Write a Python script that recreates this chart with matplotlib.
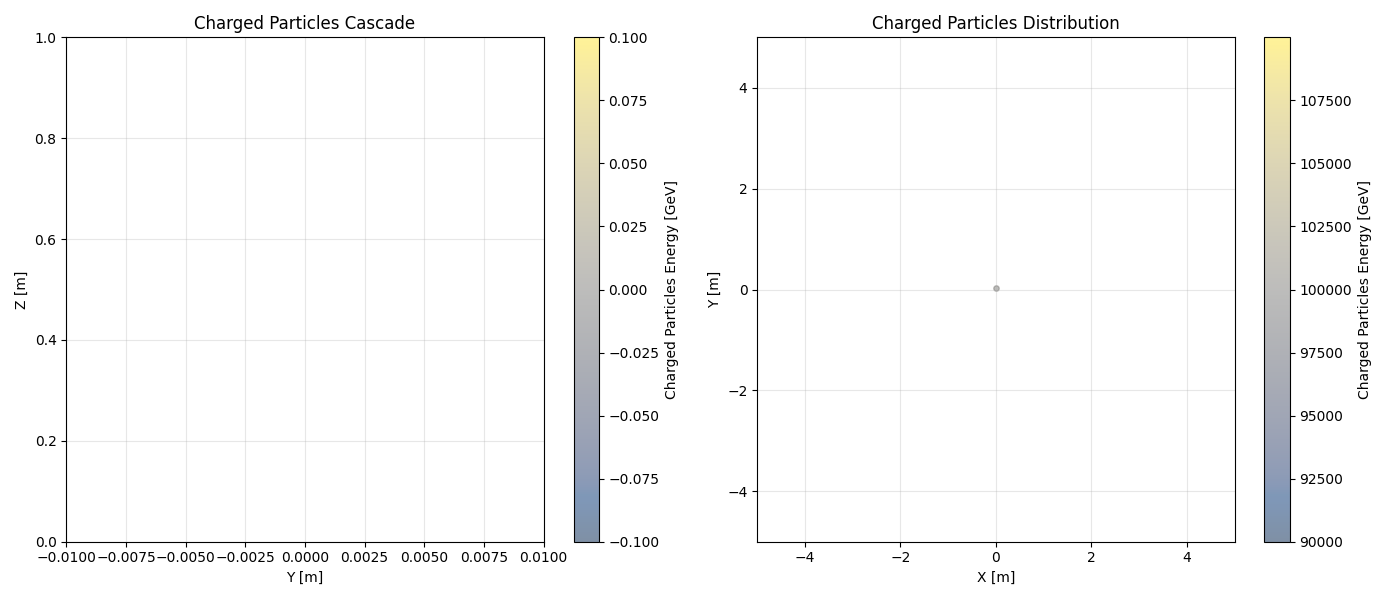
import matplotlib
matplotlib.use('Agg')
import matplotlib.pyplot as plt
import numpy as np

# cascade view: no charged particles recorded
cascade_y = []
cascade_z = []
cascade_energy = []

# transverse distribution: single primary
dist_x = [0.0]
dist_y = [0.03]
dist_energy = [99999.9]

fig, (ax1, ax2) = plt.subplots(1, 2, figsize=(14, 6))

sc1 = ax1.scatter(cascade_y, cascade_z, c=cascade_energy, cmap='cividis',
                  alpha=0.5, s=15, vmin=0, vmax=0)
ax1.set_xlim(-0.01, 0.01)
ax1.set_ylim(0, 1)
ax1.set_xlabel('Y [m]')
ax1.set_ylabel('Z [m]')
ax1.set_title('Charged Particles Cascade')
ax1.grid(True, alpha=0.3)
fig.colorbar(sc1, ax=ax1, label='Charged Particles Energy [GeV]')

sc2 = ax2.scatter(dist_x, dist_y, c=dist_energy, cmap='cividis', alpha=0.5, s=15)
ax2.set_xlim(-5, 5)
ax2.set_ylim(-5, 5)
ax2.set_xlabel('X [m]')
ax2.set_ylabel('Y [m]')
ax2.set_title('Charged Particles Distribution')
ax2.grid(True, alpha=0.3)
fig.colorbar(sc2, ax=ax2, label='Charged Particles Energy [GeV]')

plt.tight_layout()
plt.savefig('out.png', dpi=100)
